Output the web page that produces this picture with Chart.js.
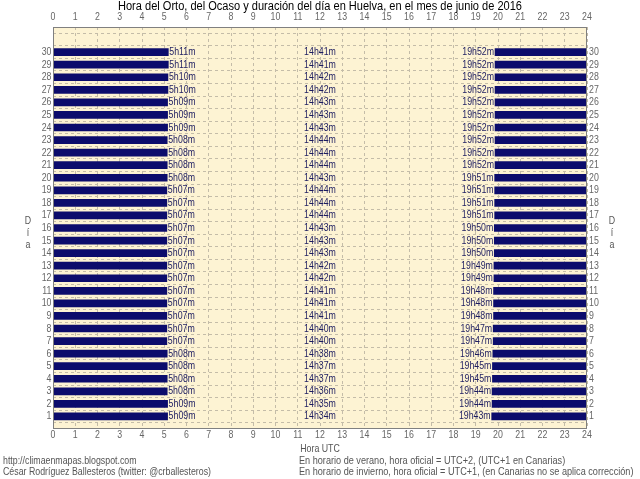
<!DOCTYPE html>
<html>
<head>
<meta charset="utf-8">
<script src="https://cdn.jsdelivr.net/npm/chart.js@4.4.0/dist/chart.umd.min.js"></script>
<style>
  html, body { margin: 0; padding: 0; background: #ffffff; }
  canvas { display: block; }
</style>
</head>
<body>
<canvas id="chart" width="640" height="479"></canvas>
<script>
// Days of June 2016
const days = [];
for (let d = 1; d <= 30; d++) days.push(d);

// Sunrise (orto), UTC, day 1..30
const sunrise = ['5h09m','5h09m','5h08m','5h08m','5h08m','5h08m','5h07m','5h07m','5h07m','5h07m',
                 '5h07m','5h07m','5h07m','5h07m','5h07m','5h07m','5h07m','5h07m','5h07m','5h08m',
                 '5h08m','5h08m','5h08m','5h09m','5h09m','5h09m','5h10m','5h10m','5h11m','5h11m'];
// Sunset (ocaso), UTC, day 1..30
const sunset = ['19h43m','19h44m','19h44m','19h45m','19h45m','19h46m','19h47m','19h47m','19h48m','19h48m',
                '19h48m','19h49m','19h49m','19h50m','19h50m','19h50m','19h51m','19h51m','19h51m','19h51m',
                '19h52m','19h52m','19h52m','19h52m','19h52m','19h52m','19h52m','19h52m','19h52m','19h52m'];
// Day length, day 1..30
const duration = ['14h34m','14h35m','14h36m','14h37m','14h37m','14h38m','14h40m','14h40m','14h41m','14h41m',
                  '14h41m','14h42m','14h42m','14h43m','14h43m','14h43m','14h44m','14h44m','14h44m','14h43m',
                  '14h44m','14h44m','14h44m','14h43m','14h43m','14h43m','14h42m','14h42m','14h41m','14h41m'];

const hourTicks = [];
for (let h = 0; h <= 24; h++) hourTicks.push(h);

const FONT = '"Liberation Sans", Arial, sans-serif';
const NARROW = 0.8;   // the original uses a condensed face

function toHours(s) {
    const m = s.match(/(\d+)h(\d+)m/);
    return parseInt(m[1]) + parseInt(m[2]) / 60;
}

// draw horizontally condensed text
function narrowText(ctx, text, x, y, align, sx) {
    ctx.save();
    ctx.translate(x, y);
    ctx.scale(sx || NARROW, 1);
    ctx.textAlign = align;
    ctx.fillText(text, 0, 0);
    ctx.restore();
}

const nightMorning = days.map((d, i) => ({ x: [0, toHours(sunrise[i])], y: d }));
const nightEvening = days.map((d, i) => ({ x: [toHours(sunset[i]), 24], y: d }));

const decorPlugin = {
    id: 'decor',
    beforeDraw(chart) {
        const a = chart.chartArea, ctx = chart.ctx;
        ctx.save();
        ctx.fillStyle = '#fdf3d3';
        ctx.fillRect(a.left, a.top, a.right - a.left, a.bottom - a.top);
        ctx.restore();
    },
    afterDatasetsDraw(chart) {
        const ctx = chart.ctx, xs = chart.scales.x, ys = chart.scales.y;
        ctx.save();
        ctx.font = '11px ' + FONT;
        ctx.fillStyle = '#1c1c60';
        ctx.textBaseline = 'middle';
        days.forEach((d, i) => {
            const y = ys.getPixelForValue(d);
            narrowText(ctx, sunrise[i], xs.getPixelForValue(toHours(sunrise[i])) + 1, y, 'left');
            narrowText(ctx, duration[i], xs.getPixelForValue(12), y, 'center');
            narrowText(ctx, sunset[i], xs.getPixelForValue(toHours(sunset[i])) - 1, y, 'right');
        });
        const a = chart.chartArea;
        ctx.strokeStyle = '#808080';
        ctx.lineWidth = 1;
        ctx.strokeRect(a.left + 0.5, a.top + 0.5, a.right - a.left - 1, a.bottom - a.top - 1);

        // tick labels of the four axes
        ctx.fillStyle = '#666666';
        hourTicks.forEach(h => {
            const x = xs.getPixelForValue(h);
            narrowText(ctx, String(h), x, 17, 'center');
            narrowText(ctx, String(h), x, 435, 'center');
        });
        days.forEach(d => {
            const y = ys.getPixelForValue(d);
            narrowText(ctx, String(d), a.left - 1.5, y, 'right');
            narrowText(ctx, String(d), a.right + 2, y, 'left');
        });
        ctx.restore();
    },
    afterDraw(chart) {
        const ctx = chart.ctx;
        ctx.save();
        ctx.textBaseline = 'middle';
        ctx.fillStyle = '#000000';
        ctx.font = '12px ' + FONT;
        const title = 'Hora del Orto, del Ocaso y duración del día en Huelva, en el mes de junio de 2016';
        narrowText(ctx, title, 320, 7, 'center', 404 / ctx.measureText(title).width);

        ctx.font = '11px ' + FONT;
        ctx.fillStyle = '#555555';
        narrowText(ctx, 'Hora UTC', 320, 449, 'center');
        ['D', 'í', 'a'].forEach((c, k) => {
            narrowText(ctx, c, 28, 221 + k * 12, 'center');
            narrowText(ctx, c, 612, 221 + k * 12, 'center');
        });
        narrowText(ctx, 'http://climaenmapas.blogspot.com', 3, 461, 'left');
        narrowText(ctx, 'César Rodríguez Ballesteros (twitter: @crballesteros)', 3, 472, 'left');
        narrowText(ctx, 'En horario de verano, hora oficial = UTC+2, (UTC+1 en Canarias)', 299, 461, 'left', 0.83);
        narrowText(ctx, 'En horario de invierno, hora oficial = UTC+1, (en Canarias no se aplica corrección)', 299, 472, 'left', 0.83);
        ctx.restore();
    }
};

function dayTicks(scale) {
    scale.ticks = [];
    for (let d = 1; d <= 31; d++) scale.ticks.push({ value: d });
}

const gridStyle = { color: '#c4bca8', drawTicks: false };
const dashed = { dash: [3, 3], display: false };

new Chart(document.getElementById('chart'), {
    type: 'bar',
    data: {
        datasets: [
            { data: nightMorning, backgroundColor: '#0c0c6c', borderWidth: 0, grouped: false, barThickness: 7 },
            { data: nightEvening, backgroundColor: '#0c0c6c', borderWidth: 0, grouped: false, barThickness: 7 }
        ]
    },
    options: {
        indexAxis: 'y',
        responsive: false,
        animation: false,
        devicePixelRatio: 1,
        layout: { padding: 0 },
        plugins: { legend: { display: false }, tooltip: { enabled: false } },
        scales: {
            x: {
                type: 'linear', position: 'bottom', min: 0, max: 24, offset: false,
                afterBuildTicks: s => { s.ticks = hourTicks.map(v => ({ value: v })); },
                afterFit: s => { s.height = 50; },
                grid: gridStyle, border: dashed,
                ticks: { display: false }
            },
            x2: {
                type: 'linear', position: 'top', min: 0, max: 24, offset: false,
                afterFit: s => { s.height = 27; },
                grid: { display: false, drawTicks: false }, border: { display: false },
                ticks: { display: false }
            },
            y: {
                type: 'linear', position: 'left', min: 0, max: 32, offset: false,
                afterBuildTicks: dayTicks,
                afterFit: s => { s.width = 53; },
                grid: gridStyle, border: dashed,
                ticks: { display: false }
            },
            y2: {
                type: 'linear', position: 'right', min: 0, max: 32, offset: false,
                afterFit: s => { s.width = 53; },
                grid: { display: false, drawTicks: false }, border: { display: false },
                ticks: { display: false }
            }
        }
    },
    plugins: [decorPlugin]
});
</script>
</body>
</html>
